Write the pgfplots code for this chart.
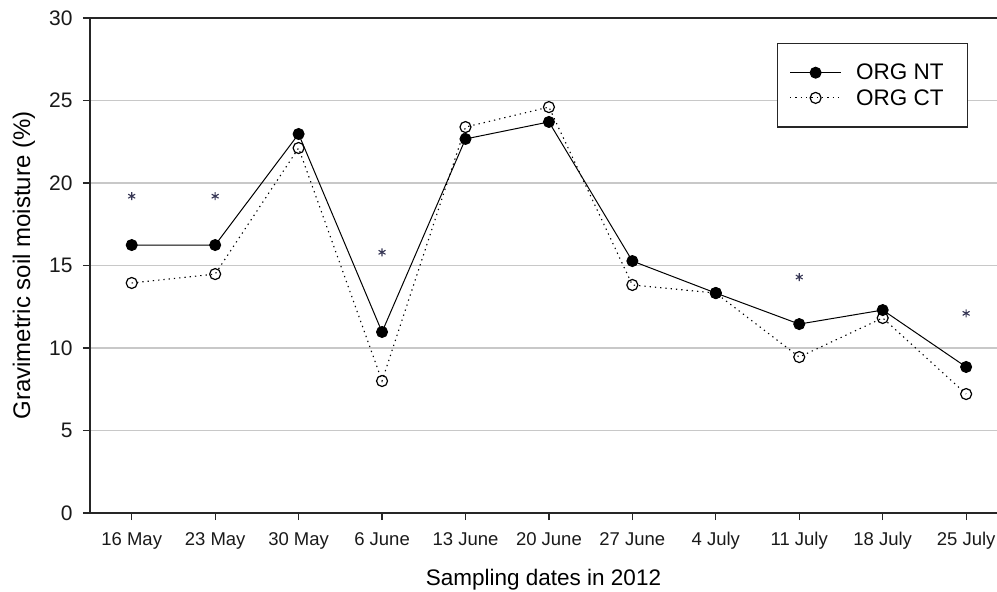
\documentclass[border=0pt]{standalone}
\usepackage{pgfplots}
\pgfplotsset{compat=1.18}
\usepackage{fontspec}
\setmainfont{Liberation Sans}
\definecolor{gridgray}{RGB}{200,200,200}
\definecolor{astcol}{RGB}{55,55,85}
\begin{document}
\begin{tikzpicture}
\path[use as bounding box] (-90pt,-79pt) rectangle (907pt,513pt);
\begin{axis}[
  at={(0pt,0pt)}, anchor=south west,
  scale only axis, width=907pt, height=495pt,
  xmin=-0.5, xmax=10.37, ymin=0, ymax=30,
  axis x line*=bottom, axis y line*=left,
  axis line style={-, line width=1.2pt, black!85},
  xtick={0,1,2,3,4,5,6,7,8,9,10},
  xticklabels={16 May,23 May,30 May,6 June,13 June,20 June,27 June,4 July,11 July,18 July,25 July},
  ytick={0,5,10,15,20,25,30},
  ymajorgrids, grid style={gridgray, line width=1.3pt},
  tick align=outside, major tick length=7pt,
  tick style={line width=1.2pt, black!85},
  /pgf/number format/assume math mode=true,
  xticklabel style={font=\fontsize{18.5}{20}\selectfont, text=black!90, yshift=-9pt},
  yticklabel style={font=\fontsize{21}{22}\selectfont, text=black!90, xshift=-7pt},
  xlabel={Sampling dates in 2012},
  ylabel={Gravimetric soil moisture (\%)},
  xlabel style={font=\fontsize{22.5}{25}\selectfont, at={(axis description cs:0.5,-0.1354)}, anchor=center},
  ylabel style={font=\fontsize{24}{26}\selectfont, at={(axis description cs:-0.0728,0.5)}, anchor=center},
  legend style={at={(rel axis cs:0.7574,0.9495)}, anchor=north west,
    draw=black!85, line width=1.2pt, fill=white,
    font=\fontsize{22.5}{24}\selectfont,
    inner xsep=12pt, inner ysep=19pt, row sep=5pt,
    nodes={inner sep=1.5pt},
    /tikz/every odd column/.append style={column sep=13pt}},
  legend cell align=left,
  legend image code/.code={\draw[mark repeat=2,mark phase=2,#1] plot coordinates {(0pt,0pt)(25.5pt,0pt)(51pt,0pt)};},
]
\addplot[black, line width=1pt, mark=*, mark size=5.5pt, mark options={solid, fill=black}]
  coordinates {(0,16.24)(1,16.24)(2,22.97)(3,10.97)(4,22.67)(5,23.70)(6,15.27)(7,13.33)(8,11.45)(9,12.30)(10,8.85)};
\addlegendentry{ORG NT\hspace*{10pt}}
\addplot[black, line width=1.1pt, dash pattern=on 1.3pt off 4pt, mark=o, mark size=5.5pt, mark options={solid, fill=white, line width=1.2pt}]
  coordinates {(0,13.94)(1,14.48)(2,22.12)(3,8.00)(4,23.39)(5,24.60)(6,13.82)(7,13.33)(8,9.45)(9,11.82)(10,7.21)};
\addlegendentry{ORG CT\hspace*{10pt}}
\addplot[forget plot, only marks, mark=asterisk, mark size=4pt, mark options={astcol, line width=1.1pt}]
  coordinates {(0,19.2)(1,19.2)(3,15.8)(8,14.3)(10,12.1)};
\draw[line width=1.2pt, black!85] (rel axis cs:0,1) -- (rel axis cs:1,1);
\draw[line width=1.2pt, black!85] (rel axis cs:0,0) -- ++(-7pt,0pt);
\end{axis}
\end{tikzpicture}
\end{document}
